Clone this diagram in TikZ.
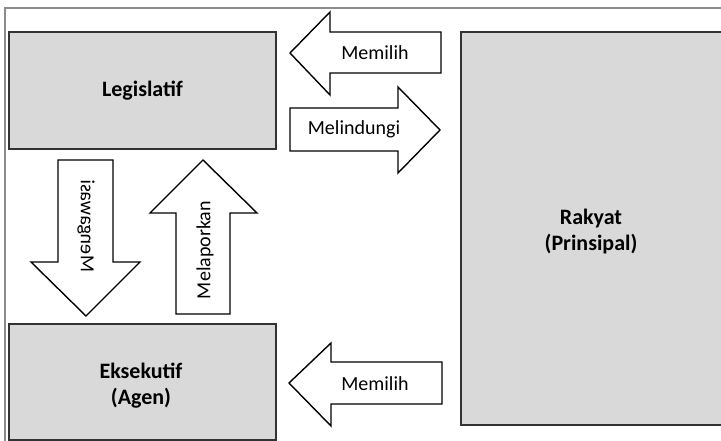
\documentclass[tikz,border=0pt]{standalone}
\usepackage{fontspec}
\setmainfont{Carlito}
\begin{document}
\begin{tikzpicture}[x=1pt,y=-1pt,
  box/.style={draw=black!80, line width=2.2pt, fill=black!15},
  arr/.style={draw=black, line width=1.4pt, fill=white, line join=miter},
  lab/.style={font=\fontsize{20}{22}\selectfont, inner sep=0pt},
  blab/.style={font=\bfseries\fontsize{22}{26}\selectfont, align=center, inner sep=0pt}]
\useasboundingbox (0,0) rectangle (721,441);
% outer frame
\draw[black!45, line width=1.2pt] (5,460) -- (5,8) -- (740,8);
% boxes
\draw[box] (9,32) rectangle (276,149);
\draw[box] (9,324) rectangle (276,440);
\draw[box] (461,32) rectangle (740,425);
\node[blab] (leg) at (142.5,91) {Legislatif};
\node[blab] (eks) at (141,386) {Eksekutif\\(Agen)};
\node[blab] (rak) at (591,232) {Rakyat\\(Prinsipal)};
% top Memilih arrow (left)
\draw[arr] (290,53) -- (330,12) -- (330,32) -- (441,32) -- (441,73) -- (330,73) -- (330,95) -- cycle;
\node[lab] (m1) at (375,53) {Memilih};
% Melindungi arrow (right)
\draw[arr] (440,130) -- (398,87) -- (398,108) -- (290,108) -- (290,151) -- (398,151) -- (398,173) -- cycle;
\node[lab] (mel) at (354,129) {Melindungi};
% bottom Memilih arrow
\draw[arr] (289,383) -- (331,343) -- (331,362) -- (442,362) -- (442,404) -- (331,404) -- (331,426) -- cycle;
\node[lab] (m2) at (375,384) {Memilih};
% Mengawasi (down)
\draw[arr] (86,316) -- (31,262) -- (58,262) -- (58,160) -- (113,160) -- (113,262) -- (140,262) -- cycle;
\node[lab, rotate=90, yscale=-1] (men) at (86,226) {Mengawasi};
% Melaporkan (up)
\draw[arr] (203,160) -- (257,213) -- (230,213) -- (230,314) -- (176,314) -- (176,213) -- (150,213) -- cycle;
\node[lab, rotate=90] (mlp) at (205,250) {Melaporkan};
\end{tikzpicture}
\end{document}
